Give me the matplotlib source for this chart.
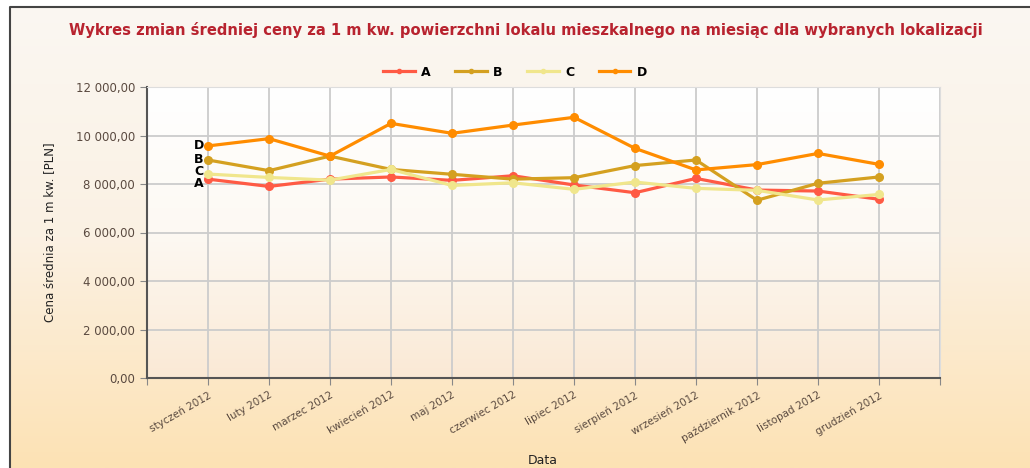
import numpy as np
import matplotlib
matplotlib.use("Agg")
import matplotlib.pyplot as plt
from matplotlib.colors import LinearSegmentedColormap
from matplotlib.ticker import FuncFormatter

miesiace = ["styczeń 2012", "luty 2012", "marzec 2012", "kwiecień 2012", "maj 2012",
            "czerwiec 2012", "lipiec 2012", "sierpień 2012", "wrzesień 2012",
            "październik 2012", "listopad 2012", "grudzień 2012"]

seria_a = [8200, 7900, 8200, 8290, 8150, 8340, 7960, 7640, 8230, 7750, 7710, 7370]
seria_b = [8990, 8550, 9150, 8600, 8400, 8200, 8260, 8760, 8990, 7330, 8030, 8290]
seria_c = [8410, 8270, 8160, 8600, 7940, 8050, 7780, 8080, 7820, 7740, 7340, 7570]
seria_d = [9570, 9870, 9150, 10500, 10090, 10430, 10750, 9470, 8580, 8800, 9260, 8810]

nazwy = ["A", "B", "C", "D"]
kolory = ["#ff5a44", "#d4a020", "#f0e68c", "#ff8c00"]
# drobne przesuniecie etykiet A i C zeby sie nie nakladaly calkiem
przes = [-170, 0, 110, 0]

fig = plt.figure(figsize=(10.3, 4.68), dpi=100)

# tlo calego wykresu (gradient) + ramka zrzutu
bg = fig.add_axes([0, 0, 1, 1], zorder=-10)
grad = np.linspace(0, 1, 256).reshape(-1, 1)
cm_bg = LinearSegmentedColormap.from_list("bg", ["#faf7f2", "#fbf1e3", "#fde2b4"])
bg.add_patch(plt.Rectangle((0, 0), 1, 1, color="white", zorder=0))
bg.imshow(grad, aspect="auto", cmap=cm_bg, extent=[10 / 1030, 1, 0, 1 - 7 / 468],
          origin="upper", zorder=1)
bg.set_xlim(0, 1)
bg.set_ylim(0, 1)
bg.axis("off")
bg.plot([10 / 1030, 10 / 1030, 1], [0, 1 - 7 / 468, 1 - 7 / 468], color="#444444", lw=1.5, zorder=2)

ax = fig.add_axes([147 / 1030, 1 - 378 / 468, (940 - 147) / 1030, (378 - 87) / 468])
cm_ax = LinearSegmentedColormap.from_list("ax", ["#ffffff", "#fdf9f3", "#fae9d5"])
ax.imshow(grad, aspect="auto", cmap=cm_ax, extent=[0, 1, 0, 1], origin="upper",
          transform=ax.transAxes, zorder=-5)

x = np.arange(1, 13)
for dane, nazwa, kolor, dy in zip([seria_a, seria_b, seria_c, seria_d], nazwy, kolory, przes):
    ax.plot(x, dane, color=kolor, lw=2.3, marker="o", markersize=5.5, label=nazwa)
    ax.text(0.93, dane[0] + dy, nazwa, ha="right", va="center", fontsize=9,
            fontweight="bold", color="black")

ax.set_xlim(0, 13)
ax.set_ylim(0, 12000)
ax.set_xticks(range(0, 14))
ax.set_xticklabels([""] + miesiace + [""], rotation=30, ha="right",
                   rotation_mode="anchor", fontsize=7.5, color="#5a4a40")
ax.set_yticks(range(0, 12001, 2000))
ax.yaxis.set_major_formatter(FuncFormatter(lambda v, p: f"{v:,.2f}".replace(",", " ").replace(".", ",")))
ax.tick_params(axis="y", labelsize=8.5, labelcolor="#5a4a40", color="#888888", length=5)
ax.tick_params(axis="x", color="#888888", length=5)
ax.grid(True, color="#cccccc", lw=1.3)
ax.set_axisbelow(True)
ax.spines["left"].set_color("#555555")
ax.spines["bottom"].set_color("#555555")
ax.spines["left"].set_linewidth(1.5)
ax.spines["bottom"].set_linewidth(1.5)
ax.spines["top"].set_color("#dddddd")
ax.spines["right"].set_color("#dddddd")

ax.set_ylabel("Cena średnia za 1 m kw. [PLN]", fontsize=8.5, color="#222222", labelpad=14)
fig.text(543 / 1030, 1 - 460 / 468, "Data", ha="center", va="center", fontsize=9, color="#222222")

fig.text(526 / 1030, 1 - 30 / 468,
         "Wykres zmian średniej ceny za 1 m kw. powierzchni lokalu mieszkalnego na miesiąc dla wybranych lokalizacji",
         ha="center", va="center", fontsize=10.6, fontweight="bold", color="#b8232f")

leg = fig.legend(loc="center", bbox_to_anchor=(515 / 1030, 1 - 72 / 468), ncol=4,
                 frameon=False, fontsize=9, handlelength=2.5, columnspacing=2.0,
                 handletextpad=0.5)
for t in leg.get_texts():
    t.set_fontweight("bold")
for h in leg.legend_handles:
    h.set_markersize(3)

fig.savefig("out.png", dpi=100)
